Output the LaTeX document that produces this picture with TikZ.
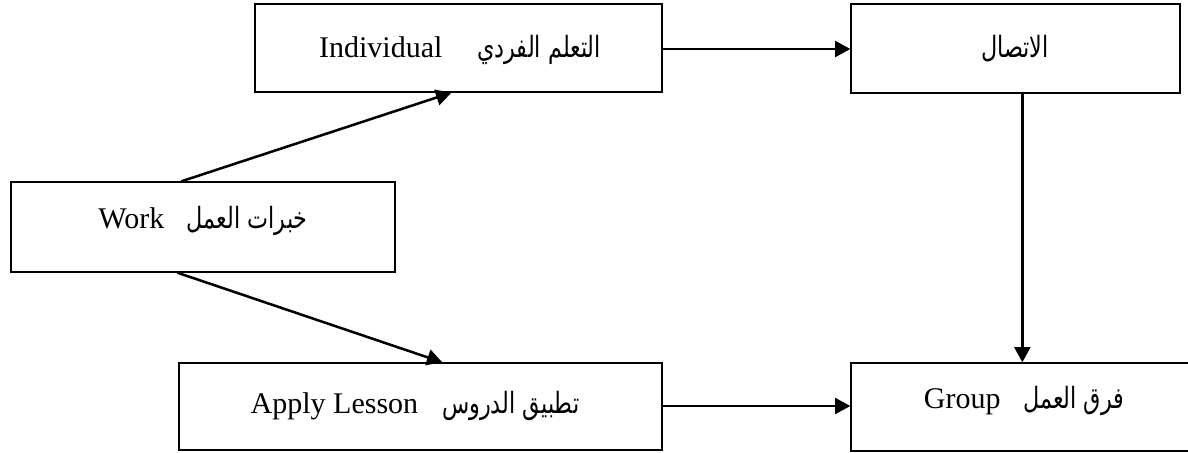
\documentclass[tikz,border=0pt]{standalone}
\usepackage{fontspec}
\setmainfont{Liberation Serif}
\newfontfamily\arabicfont[Script=Arabic, FakeStretch=0.76]{DejaVu Sans}
\TeXXeTstate=1
\usetikzlibrary{arrows.meta,fit,calc}
\newcommand{\ar}[1]{{\arabicfont\fontsize{22}{26}\selectfont\beginR #1\endR}}
\tikzset{
  box/.style={draw, line width=1pt, inner sep=0pt, rectangle},
  lbl/.style={anchor=base, inner sep=0pt, font=\fontsize{22.5}{27}\selectfont},
  link/.style={line width=1.9pt, -{Triangle[length=11.5pt,width=12pt]}}
}
\begin{document}
\begin{tikzpicture}[x=0.75pt, y=-0.75pt]
\useasboundingbox (0,0) rectangle (1188,453);
% boxes
\node[box, fit={(255,4) (662,92)}] (ind) {};
\node[box, fit={(851,4) (1180,93)}] (com) {};
\node[box, fit={(11,182) (395,272)}] (work) {};
\node[box, fit={(179,363) (662,450)}] (apply) {};
\node[box, fit={(851,363) (1198,451)}] (group) {};
% labels
\node[lbl] (indT) at (460,58) {Individual\hspace{26pt}\ar{التعلم الفردي}};
\node[lbl] (comT) at (1015,58) {\ar{الاتصال}};
\node[lbl] (workT) at (203,228) {Work\hspace{17pt}\ar{خبرات العمل}};
\node[lbl] (applyT) at (415,413) {Apply Lesson\hspace{18pt}\ar{تطبيق الدروس}};
\node[lbl] (groupT) at (1024,408) {Group\hspace{17pt}\ar{فرق العمل}};
% connector end points on the box borders
\coordinate (wUp) at ($(work.north west)+(171,0)$);
\coordinate (wDn) at ($(work.south west)+(167,0)$);
\coordinate (iIn) at ($(ind.south west)+(197,0)$);
\coordinate (aIn) at ($(apply.north west)+(264,0)$);
\coordinate (cOut) at ($(com.south west)+(172,0)$);
\coordinate (gIn) at ($(group.north west)+(172,0)$);
% connectors
\draw[link] (ind.east |- 0,49) -- (com.west |- 0,49);
\draw[link] (apply.east |- 0,406) -- (group.west |- 0,406);
\draw[link] (cOut) -- (gIn);
\draw[link] (wUp) -- (iIn);
\draw[link] (wDn) -- (aIn);
\end{tikzpicture}
\end{document}
